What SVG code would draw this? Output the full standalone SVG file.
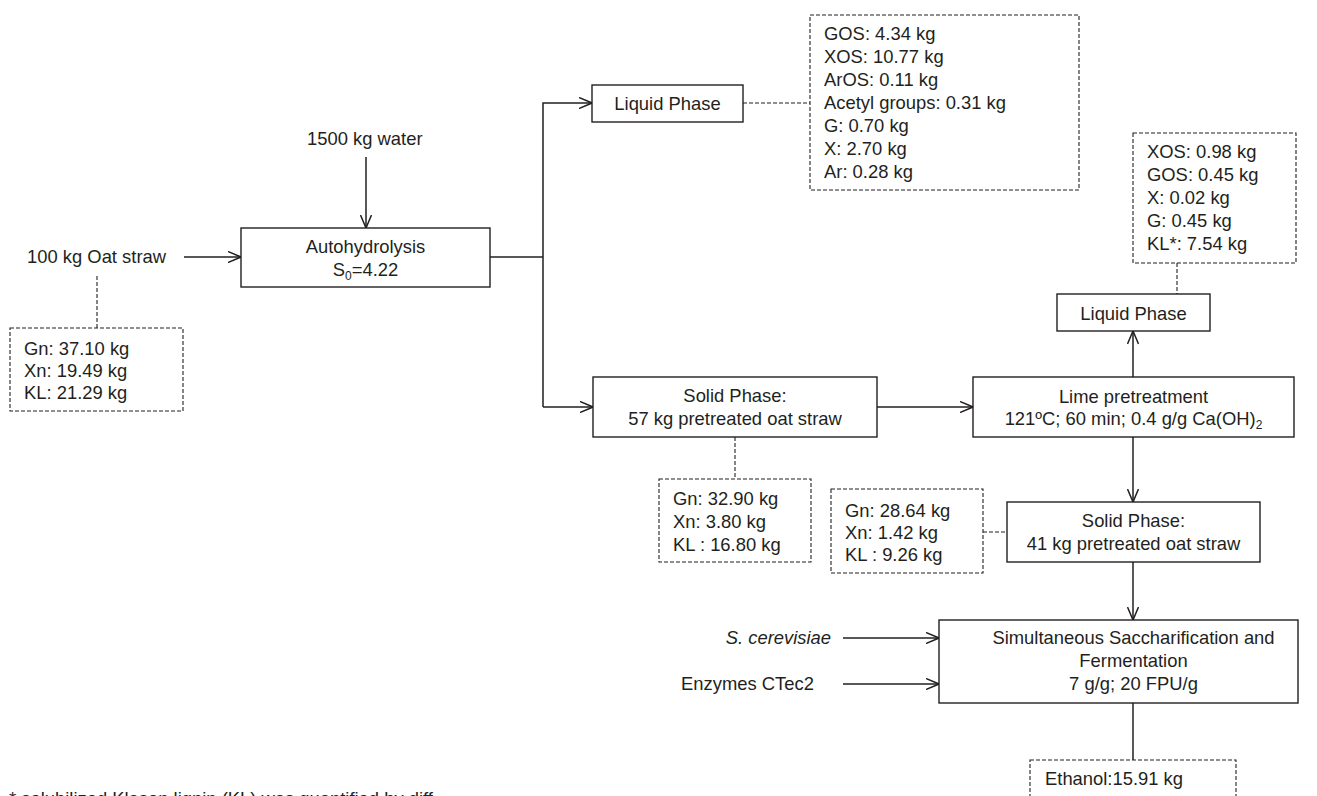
<svg xmlns="http://www.w3.org/2000/svg" width="1317" height="796" viewBox="0 0 1317 796">
<style>
text{font-family:"Liberation Sans",Arial,sans-serif;font-size:18.4px;fill:#231f20}
.c{text-anchor:middle}
.box{fill:#fff;stroke:#231f20;stroke-width:1.4}
.dbox{fill:#fff;stroke:#231f20;stroke-width:1.1;stroke-dasharray:4 2}
.ln{fill:none;stroke:#231f20;stroke-width:1.5}
.dl{fill:none;stroke:#231f20;stroke-width:1.1;stroke-dasharray:4 2}
.ar{marker-end:url(#ah)}
</style>
<defs>
<marker id="ah" markerUnits="userSpaceOnUse" viewBox="0 0 14 12" refX="13.5" refY="6" markerWidth="14" markerHeight="12" orient="auto">
<path d="M0.5,0.5 L13.5,6 L0.5,11.5" fill="none" stroke="#231f20" stroke-width="1.5"/>
</marker>
</defs>
<rect width="1317" height="796" fill="#fff"/>
<g id="connectors">
<line class="ln ar" x1="184" y1="257" x2="241" y2="257"/>
<line class="ln ar" x1="366" y1="157" x2="366" y2="228"/>
<polyline class="ln" points="490,257 543,257"/>
<polyline class="ln ar" points="543,407 543,103 592,103"/>
<line class="ln ar" x1="543" y1="407" x2="593" y2="407"/>
<line class="ln ar" x1="877" y1="407" x2="973" y2="407"/>
<line class="ln ar" x1="1133" y1="377" x2="1133" y2="331"/>
<line class="ln ar" x1="1133" y1="437" x2="1133" y2="502"/>
<line class="ln ar" x1="1133" y1="562" x2="1133" y2="620"/>
<line class="ln" x1="1133" y1="703" x2="1133" y2="760"/>
<line class="ln ar" x1="843" y1="638" x2="939" y2="638"/>
<line class="ln ar" x1="843" y1="684" x2="939" y2="684"/>
<line class="dl" x1="97" y1="276" x2="97" y2="328"/>
<line class="dl" x1="743" y1="103" x2="810" y2="103"/>
<line class="dl" x1="735" y1="437" x2="735" y2="479"/>
<line class="dl" x1="983" y1="532" x2="1007" y2="532"/>
<line class="dl" x1="1177" y1="263" x2="1177" y2="294"/>
</g>
<g id="oat-straw"><text x="27" y="263">100 kg Oat straw</text></g>
<g id="water"><text x="307" y="145">1500 kg water</text></g>
<g id="autohydrolysis">
<rect class="box" x="241" y="228" width="249" height="59"/>
<text class="c" x="365.5" y="253">Autohydrolysis</text>
<text class="c" x="365.5" y="276">S<tspan font-size="12" dy="4">0</tspan><tspan dy="-4">=4.22</tspan></text>
</g>
<g id="oat-composition">
<rect class="dbox" x="10" y="328" width="173" height="83"/>
<text x="24" y="355">Gn: 37.10 kg</text>
<text x="24" y="377">Xn: 19.49 kg</text>
<text x="24" y="399">KL: 21.29 kg</text>
</g>
<g id="liquid-phase-1">
<rect class="box" x="592" y="85" width="151" height="37"/>
<text class="c" x="667.5" y="110">Liquid Phase</text>
</g>
<g id="liquid-composition-1">
<rect class="dbox" x="810" y="15" width="269" height="175"/>
<text x="824" y="40">GOS: 4.34 kg</text>
<text x="824" y="63">XOS: 10.77 kg</text>
<text x="824" y="86">ArOS: 0.11 kg</text>
<text x="824" y="109">Acetyl groups: 0.31 kg</text>
<text x="824" y="132">G: 0.70 kg</text>
<text x="824" y="155">X: 2.70 kg</text>
<text x="824" y="178">Ar: 0.28 kg</text>
</g>
<g id="solid-phase-1">
<rect class="box" x="593" y="377" width="284" height="60"/>
<text class="c" x="735" y="402">Solid Phase:</text>
<text class="c" x="735" y="425">57 kg pretreated oat straw</text>
</g>
<g id="solid-composition-1">
<rect class="dbox" x="659" y="479" width="152" height="83"/>
<text x="673" y="505">Gn: 32.90 kg</text>
<text x="673" y="528">Xn: 3.80 kg</text>
<text x="673" y="551">KL : 16.80 kg</text>
</g>
<g id="lime">
<rect class="box" x="973" y="377" width="321" height="60"/>
<text class="c" x="1133.5" y="403">Lime pretreatment</text>
<text class="c" x="1133.5" y="425">121ºC; 60 min; 0.4 g/g Ca(OH)<tspan font-size="12" dy="4">2</tspan></text>
</g>
<g id="liquid-phase-2">
<rect class="box" x="1057" y="294" width="153" height="37"/>
<text class="c" x="1133.5" y="320">Liquid Phase</text>
</g>
<g id="liquid-composition-2">
<rect class="dbox" x="1133" y="133" width="163" height="130"/>
<text x="1147" y="158">XOS: 0.98 kg</text>
<text x="1147" y="181">GOS: 0.45 kg</text>
<text x="1147" y="204">X: 0.02 kg</text>
<text x="1147" y="227">G: 0.45 kg</text>
<text x="1147" y="250">KL*: 7.54 kg</text>
</g>
<g id="solid-phase-2">
<rect class="box" x="1007" y="502" width="253" height="60"/>
<text class="c" x="1133.5" y="527">Solid Phase:</text>
<text class="c" x="1133.5" y="550">41 kg pretreated oat straw</text>
</g>
<g id="solid-composition-2">
<rect class="dbox" x="831" y="489" width="152" height="84"/>
<text x="845" y="517">Gn: 28.64 kg</text>
<text x="845" y="539">Xn: 1.42 kg</text>
<text x="845" y="561">KL : 9.26 kg</text>
</g>
<g id="yeast"><text x="831" y="644" font-style="italic" text-anchor="end">S. cerevisiae</text></g>
<g id="enzymes"><text x="681" y="690">Enzymes CTec2</text></g>
<g id="ssf">
<rect class="box" x="939" y="620" width="359" height="83"/>
<text class="c" x="1133.5" y="644">Simultaneous Saccharification and</text>
<text class="c" x="1133.5" y="667">Fermentation</text>
<text class="c" x="1133.5" y="690">7 g/g; 20 FPU/g</text>
</g>
<g id="ethanol">
<rect class="dbox" x="1030" y="760" width="206" height="50"/>
<text x="1045" y="785">Ethanol:15.91 kg</text>
</g>
<g id="footnote"><text x="9" y="805" font-size="14.5">* solubilized Klason lignin (KL) was quantified by diff</text></g>
</svg>
